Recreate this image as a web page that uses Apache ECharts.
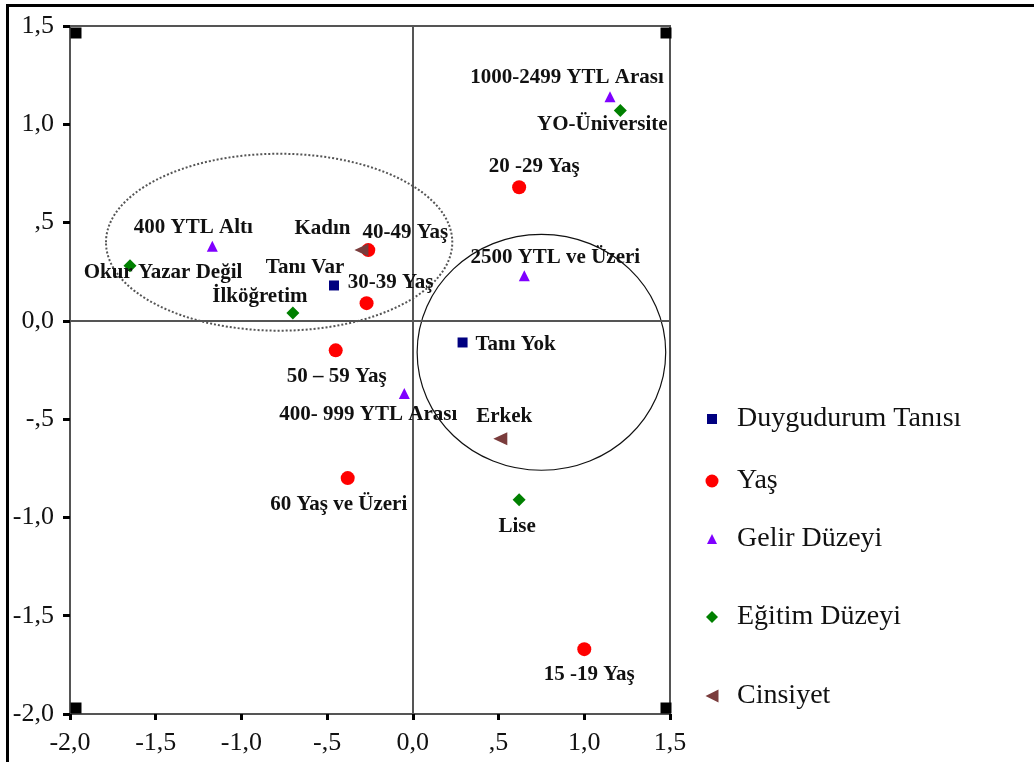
<!DOCTYPE html>
<html>
<head>
<meta charset="utf-8">
<script src="https://cdn.jsdelivr.net/npm/echarts@6/dist/echarts.min.js"></script>
<style>html,body{margin:0;padding:0;background:#fff}#chart{width:1034px;height:762px}</style>
</head>
<body>
<div id="chart"></div>
<script>
// ---- data ----
const duyguNames = ['Tanı Var', 'Tanı Yok'];
const duyguX = [-0.46, 0.29];
const duyguY = [0.18, -0.11];

const yasNames = ['40-49 Yaş', '30-39 Yaş', '20 -29 Yaş', '50 – 59 Yaş', '60 Yaş ve Üzeri', '15 -19 Yaş'];
const yasX = [-0.26, -0.27, 0.62, -0.45, -0.38, 1.00];
const yasY = [0.36, 0.09, 0.68, -0.15, -0.80, -1.67];

const gelirNames = ['400 YTL Altı', '1000-2499 YTL Arası', '2500 YTL ve Üzeri', '400- 999 YTL Arası'];
const gelirX = [-1.17, 1.15, 0.65, -0.05];
const gelirY = [0.38, 1.14, 0.23, -0.37];

const egitimNames = ['Okur Yazar Değil', 'İlköğretim', 'YO-Üniversite', 'Lise'];
const egitimX = [-1.65, -0.70, 1.21, 0.62];
const egitimY = [0.28, 0.04, 1.07, -0.91];

const cinsNames = ['Kadın', 'Erkek'];
const cinsX = [-0.30, 0.51];
const cinsY = [0.36, -0.60];

const seriesNames = ['Duygudurum Tanısı', 'Yaş', 'Gelir Düzeyi', 'Eğitim Düzeyi', 'Cinsiyet'];

const xTickLabels = ['-2,0', '-1,5', '-1,0', '-,5', '0,0', ',5', '1,0', '1,5'];
const yTickLabels = ['-2,0', '-1,5', '-1,0', '-,5', '0,0', ',5', '1,0', '1,5'];

// ellipse annotations: [centerX, centerY, radiusX, radiusY] in data units
const dottedEllipse = [-0.78, 0.40, 1.01, 0.45];
const solidEllipse = [0.75, -0.16, 0.725, 0.60];

// ---- style (label offsets in px, relative to marker centre) ----
const labelOffsets = {
  'Tanı Var': [-29, -18], 'Tanı Yok': [53, 2],
  '40-49 Yaş': [37, -18], '30-39 Yaş': [24, -21], '20 -29 Yaş': [15, -21],
  '50 – 59 Yaş': [1, 26], '60 Yaş ve Üzeri': [-9, 26], '15 -19 Yaş': [5, 25],
  '400 YTL Altı': [-19, -19], '1000-2499 YTL Arası': [-43, -19],
  '2500 YTL ve Üzeri': [31, -18], '400- 999 YTL Arası': [-36, 21],
  'Okur Yazar Değil': [33, 7], 'İlköğretim': [-33, -16],
  'YO-Üniversite': [-18, 14], 'Lise': [-2, 27],
  'Kadın': [-39, -22], 'Erkek': [4, -22]
};

const FONT = 'Liberation Serif, Times New Roman, serif';
const leftTri = 'path://M0,6 L12,0 L12,12 Z';

function pts(names, xs, ys) {
  return names.map((n, i) => ({
    name: n, value: [xs[i], ys[i]],
    label: { offset: labelOffsets[n] || [0, 0] }
  }));
}

const labelStyle = {
  show: true, position: 'inside', formatter: '{b}',
  color: '#111', fontFamily: FONT, fontWeight: 'bold', fontSize: 21,
  align: 'center', verticalAlign: 'middle'
};

function scatter(name, data, symbol, size, color) {
  return {
    name, type: 'scatter', data, symbol, symbolSize: size,
    itemStyle: { color, opacity: 1 }, label: labelStyle,
    emphasis: { disabled: true }, z: 5
  };
}

function ellipseSeries(e, dashed) {
  return {
    type: 'custom', silent: true, z: 3,
    data: [e],
    renderItem: function (params, api) {
      const c = api.coord([api.value(0), api.value(1)]);
      const s = api.size([api.value(2), api.value(3)]);
      return {
        type: 'ellipse',
        shape: { cx: c[0], cy: c[1], rx: s[0], ry: s[1] },
        style: dashed
          ? { fill: 'none', stroke: '#555', lineWidth: 2, lineDash: [2, 2] }
          : { fill: 'none', stroke: '#111', lineWidth: 1.2 }
      };
    }
  };
}

function tickFmt(labels) {
  return function (v) { const i = Math.round((v + 2) / 0.5); return labels[i] !== undefined ? labels[i] : ''; };
}

const legendSpec = [
  { name: seriesNames[0], cy: 419, w: 10, h: 10, icon: 'rect' },
  { name: seriesNames[1], cy: 481, w: 13, h: 13, icon: 'circle' },
  { name: seriesNames[2], cy: 539, w: 10, h: 10, icon: 'triangle' },
  { name: seriesNames[3], cy: 617, w: 12, h: 12, icon: 'diamond' },
  { name: seriesNames[4], cy: 696, w: 13, h: 13, icon: leftTri }
];
const legends = legendSpec.map(l => {
  const left = 712 - l.w / 2;
  return {
    data: [{ name: l.name, icon: l.icon }],
    left: left, top: l.cy - 16, padding: 0,
    itemWidth: l.w, itemHeight: l.h, selectedMode: false,
    textStyle: { fontFamily: FONT, fontSize: 28, color: '#111', padding: [0, 0, 0, 737 - (left + l.w + 5)], lineHeight: 32 }
  };
});

const chart = echarts.init(document.getElementById('chart'), null, { renderer: 'canvas' });
chart.setOption({
  backgroundColor: '#fff',
  animation: false,
  legend: legends,
  grid: { left: 70, right: 364, top: 26, bottom: 48, show: true, borderColor: '#555', borderWidth: 2, containLabel: false },
  xAxis: {
    type: 'value', min: -2, max: 1.5, interval: 0.5,
    axisLine: { onZero: false, lineStyle: { color: '#555', width: 2 } },
    axisTick: { show: true, length: 6, lineStyle: { color: '#000', width: 3 } },
    splitLine: { show: false },
    axisLabel: { formatter: tickFmt(xTickLabels), fontFamily: FONT, fontSize: 26, color: '#111', margin: 16 }
  },
  yAxis: {
    type: 'value', min: -2, max: 1.5, interval: 0.5,
    axisLine: { onZero: false, lineStyle: { color: '#555', width: 2 } },
    axisTick: { show: true, length: 7, lineStyle: { color: '#000', width: 3 } },
    splitLine: { show: false },
    axisLabel: { formatter: tickFmt(yTickLabels), fontFamily: FONT, fontSize: 26, color: '#111', margin: 16 }
  },
  graphic: [
    { type: 'rect', shape: { x: 6, y: 4, width: 1028, height: 3 }, style: { fill: '#000' }, silent: true },
    { type: 'rect', shape: { x: 6, y: 4, width: 3, height: 758 }, style: { fill: '#000' }, silent: true }
  ],
  series: [
    ellipseSeries(dottedEllipse, true),
    ellipseSeries(solidEllipse, false),
    {
      type: 'scatter', name: 'corners', symbol: 'rect', symbolSize: 11, silent: true,
      itemStyle: { color: '#000', opacity: 1 }, z: 4,
      data: [
        { value: [-2, 1.5], symbolOffset: [6, 7] },
        { value: [1.5, 1.5], symbolOffset: [-4, 7] },
        { value: [-2, -2], symbolOffset: [6, -6] },
        { value: [1.5, -2], symbolOffset: [-4, -6] }
      ],
      markLine: {
        silent: true, symbol: 'none', label: { show: false },
        lineStyle: { color: '#555', width: 2, type: 'solid' },
        data: [{ xAxis: 0 }, { yAxis: 0 }]
      }
    },
    scatter(seriesNames[0], pts(duyguNames, duyguX, duyguY), 'rect', 10, '#000080'),
    scatter(seriesNames[1], pts(yasNames, yasX, yasY), 'circle', 14, '#ff0000'),
    scatter(seriesNames[2], pts(gelirNames, gelirX, gelirY), 'triangle', 11, '#7f00ff'),
    scatter(seriesNames[3], pts(egitimNames, egitimX, egitimY), 'diamond', 13, '#008000'),
    scatter(seriesNames[4], pts(cinsNames, cinsX, cinsY), leftTri, [14, 13], '#7a3c3c')
  ]
});
</script>
</body>
</html>
